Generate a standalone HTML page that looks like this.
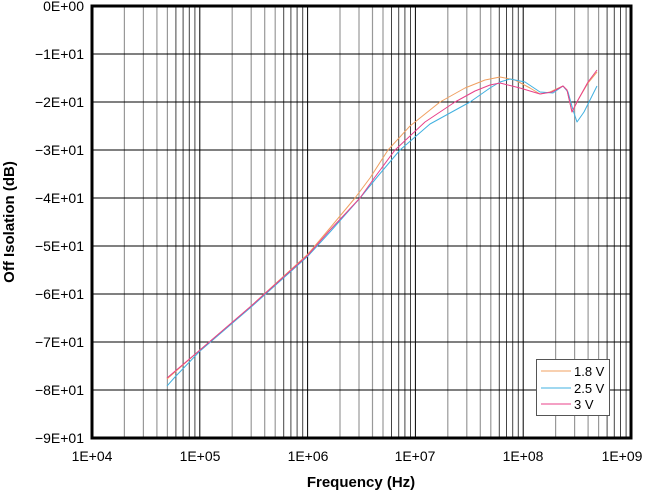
<!DOCTYPE html>
<html><head><style>body{margin:0;background:#fff}svg{display:block}</style></head><body>
<svg width="653" height="496" xmlns="http://www.w3.org/2000/svg" font-family="Liberation Sans, sans-serif">
<path stroke="#999" stroke-width="1.2" fill="none" d="M124.4 6V438M143.4 6V438M156.9 6V438M167.4 6V438M232.2 6V438M251.2 6V438M264.7 6V438M275.2 6V438M340 6V438M359 6V438M372.5 6V438M383 6V438M447.8 6V438M466.8 6V438M480.3 6V438M490.8 6V438M555.6 6V438M574.6 6V438M588.1 6V438M598.6 6V438"/>
<path stroke="#444" stroke-width="1" fill="none" d="M175.9 6V438M183.1 6V438M189.3 6V438M194.9 6V438M283.7 6V438M290.9 6V438M297.1 6V438M302.7 6V438M391.5 6V438M398.7 6V438M404.9 6V438M410.5 6V438M499.3 6V438M506.5 6V438M512.7 6V438M518.3 6V438M607.1 6V438M614.3 6V438M620.5 6V438M626.1 6V438"/>
<path stroke="#000" stroke-width="1" fill="none" d="M199.8 6V438M307.6 6V438M415.4 6V438M523.2 6V438M92 54H631M92 102H631M92 150H631M92 198H631M92 246H631M92 294H631M92 342H631M92 390H631"/>
<g fill="none" stroke-width="1" stroke-linejoin="round">
<polyline stroke="#f0a060" points="167,379 200,350 250,307 308,254 330,228 355,198 370,178 388,150 410,126 440,102 465,88 485,80 500,77 515,80 530,88 540,94 550,92 563,86 567,90 572,112 578,100 588,83 597,72"/>
<polyline stroke="#40b0e0" points="167,386 175,377 200,351 250,308 308,256 330,232 360,198 378,176 400,150 430,124 470,102 490,88 500,82 510,79 525,82 540,92 553,93 563,86 568,92 573,110 577,122 584,112 592,96 597,86"/>
<polyline stroke="#e8408a" points="167,378 200,350 250,307 308,255 330,230 360,198 375,177 395,150 425,122 455,102 475,91 490,85 500,83 520,88 540,94 552,92 563,86 567,90 572,112 578,100 588,82 597,70"/>
</g>
<rect x="92" y="6" width="539" height="432" fill="none" stroke="#000" stroke-width="3"/>
<rect x="536.5" y="359.5" width="73" height="56" fill="#fff" stroke="#555"/>
<line x1="541" x2="571" y1="371" y2="371" stroke="#f0a060"/>
<line x1="541" x2="571" y1="388" y2="388" stroke="#40b0e0"/>
<line x1="541" x2="571" y1="404" y2="404" stroke="#e8408a"/>
<g font-size="13" fill="#000">
<text x="574" y="376">1.8 V</text><text x="574" y="393">2.5 V</text><text x="574" y="409">3 V</text>
</g>
<g font-size="14" text-anchor="end">
<text x="84" y="11">0E+00</text><text x="84" y="59">−1E+01</text><text x="84" y="107">−2E+01</text><text x="84" y="155">−3E+01</text><text x="84" y="203">−4E+01</text><text x="84" y="251">−5E+01</text><text x="84" y="299">−6E+01</text><text x="84" y="347">−7E+01</text><text x="84" y="395">−8E+01</text><text x="84" y="443">−9E+01</text>
</g>
<g font-size="14" text-anchor="middle">
<text x="92" y="461">1E+04</text><text x="200" y="461">1E+05</text><text x="308" y="461">1E+06</text><text x="415" y="461">1E+07</text><text x="523" y="461">1E+08</text><text x="622" y="461">1E+09</text>
</g>
<text x="361" y="467" font-size="15" font-weight="bold" text-anchor="middle" dy="20">Frequency (Hz)</text>
<text transform="translate(14,222) rotate(-90)" font-size="15" font-weight="bold" text-anchor="middle">Off Isolation (dB)</text>
</svg>
</body></html>
